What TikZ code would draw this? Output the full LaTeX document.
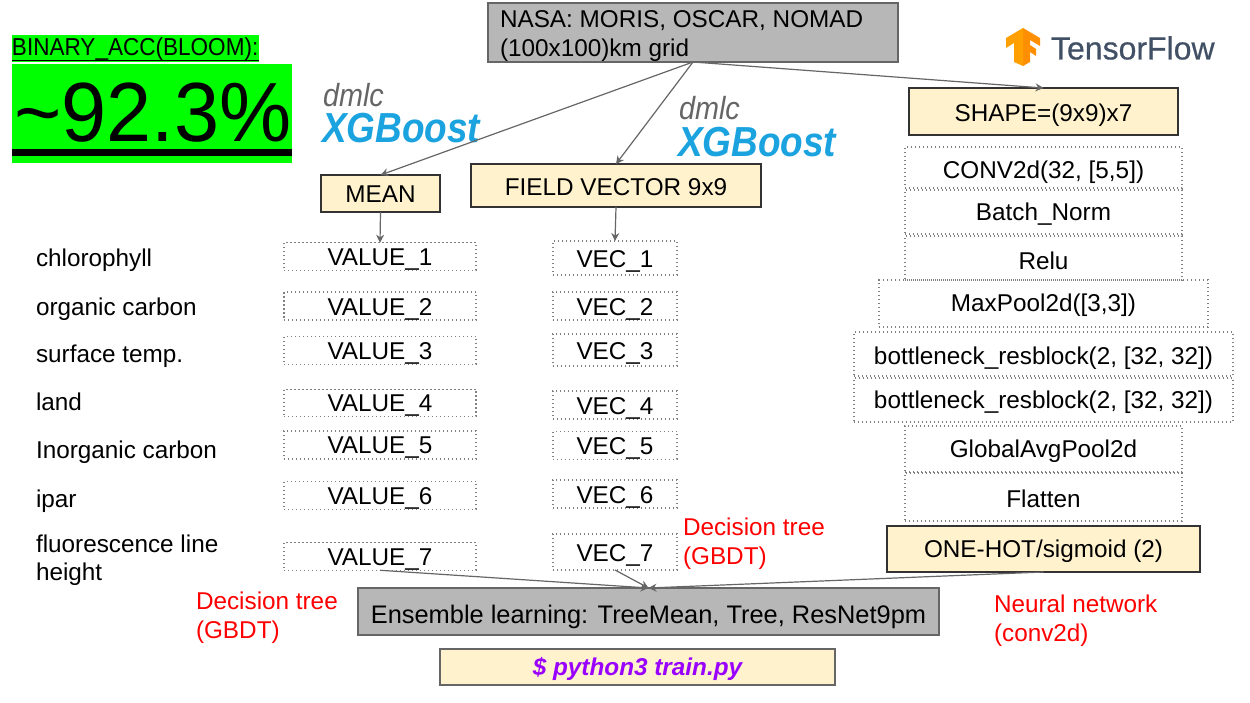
\documentclass[tikz,border=0pt]{standalone}
\usepackage{fontspec}
\setmainfont{Liberation Sans}
\usetikzlibrary{arrows.meta,calc}
\definecolor{boxcream}{HTML}{FFF2CC}
\definecolor{boxgray}{HTML}{B7B7B7}
\definecolor{edgegray}{HTML}{666666}
\definecolor{dotgray}{HTML}{808080}
\definecolor{xgblue}{HTML}{1BA3E0}
\definecolor{tfgray}{HTML}{425066}
\definecolor{tforange}{HTML}{FF8F00}
\definecolor{pyviolet}{HTML}{9900FF}
\newcommand{\fs}[1]{\fontsize{#1}{#1}\selectfont}
\newcommand{\fsl}[2]{\fontsize{#1}{#2}\selectfont}
% shift the text of a node down by #1 pt inside its box
\newcommand{\dn}[2]{\raisebox{0pt}[\dimexpr\height+#1pt+#1pt\relax][\depth]{#2}}
\newcommand{\bx}[8]{%
  \pgfmathsetmacro{\bw}{#4-#2}\pgfmathsetmacro{\bh}{#5-#3}%
  \node[#6,minimum width=\bw pt,minimum height=\bh pt] (#1) at ({(#2+#4)/2},{(#3+#5)/2}) {\dn{#7}{#8}};}
\tikzset{
  base/.style={inner sep=0pt,outer sep=0pt,font=\fs{24.3},text=black},
  cream/.style={base,draw=black!80,line width=1.1pt,fill=boxcream},
  graybox/.style={base,draw=edgegray,line width=1.1pt,fill=boxgray},
  dotbox/.style={base,draw=dotgray,line width=1.3pt,dash pattern=on 1.3pt off 2.7pt},
  lab/.style={base,anchor=west},
  redlab/.style={base,anchor=north west,text=red,align=left,font=\fsl{24.3}{29}},
  conn/.style={draw=edgegray,line width=1.2pt,-{Stealth[length=8pt,width=8pt]}},
  xgbfont/.style={base,anchor=west,text=xgblue,font=\fs{42}\bfseries\itshape\addfontfeature{FakeStretch=0.88}},
  dmlcfont/.style={base,anchor=west,text=edgegray,font=\fs{32}\itshape\addfontfeature{FakeStretch=0.9}},
}
\begin{document}
\begin{tikzpicture}[x=1pt,y=-1pt]
\useasboundingbox (0,0) rectangle (1250,703);
\fill[white] (0,0) rectangle (1250,703);
% accuracy badge
\fill[green] (12,35) rectangle (259,62);
\fill[green] (12,64) rectangle (292,163);
\fill[black] (12,149) rectangle (292,156);
\fill[black] (12,60) rectangle (259,61.5);
\node[base,anchor=west,font=\fs{24.5}\addfontfeature{FakeStretch=0.92}] (acctitle) at (12,49) {BINARY\_ACC(BLOOM):};
\node[base,anchor=west,font=\fs{84}\addfontfeature{FakeStretch=0.965}] (acc) at (14,113) {\string~92.3\%};
% logos
\node[dmlcfont] (dmlcA) at (323,95) {dmlc};
\node[xgbfont] (xgbA) at (322,128) {XGBoost};
\node[dmlcfont] (dmlcB) at (679,108) {dmlc};
\node[xgbfont] (xgbB) at (678,142) {XGBoost};
\fill[tforange] (1023,28) -- (1040,38) -- (1040,46) -- (1030,40) -- (1030,45) -- (1036,49) -- (1036,56) -- (1030,52) -- (1030,62) -- (1023,66) -- cycle;
\fill[tforange!85!yellow] (1023,28) -- (1006,38) -- (1006,48) -- (1014,43) -- (1014,62) -- (1023,66) -- cycle;
\node[base,anchor=west,text=tfgray,font=\fs{32}\addfontfeature{FakeBold=0.5}] (tf) at (1051,48) {TensorFlow};
% source
\bx{nasa}{488}{4}{898}{61}{graybox}{4}{\parbox[c]{386pt}{\fsl{24.3}{29}NASA: MORIS, OSCAR, NOMAD\\(100x100)km grid}}
% branch heads
\bx{mean}{321}{175}{440}{212}{cream}{1}{MEAN}
\bx{field}{471}{164}{761}{207}{cream}{2}{FIELD VECTOR 9x9}
\bx{shape}{909}{88}{1178}{135}{cream}{4}{SHAPE=(9x9)x7}
% feature labels
\node[lab] (f1) at (36,260) {chlorophyll};
\node[lab] (f2) at (36,309) {organic carbon};
\node[lab] (f3) at (36,356) {surface temp.};
\node[lab] (f4) at (36,402) {land};
\node[lab] (f5) at (36,452) {Inorganic carbon};
\node[lab] (f6) at (36,501) {ipar};
\node[lab,align=left,font=\fsl{24.3}{28}] (f7) at (36,560) {fluorescence line\\height};
% values
\bx{v1}{284}{243}{476}{270}{dotbox}{3}{VALUE\_1}
\bx{v2}{284}{293}{476}{319}{dotbox}{3}{VALUE\_2}
\bx{v3}{284}{337}{476}{364}{dotbox}{3}{VALUE\_3}
\bx{v4}{284}{390}{476}{416}{dotbox}{3}{VALUE\_4}
\bx{v5}{284}{431}{476}{459}{dotbox}{3}{VALUE\_5}
\bx{v6}{284}{482}{476}{509}{dotbox}{3}{VALUE\_6}
\bx{v7}{284}{543}{476}{570}{dotbox}{3}{VALUE\_7}
% vectors
\bx{w1}{553}{241}{677}{275}{dotbox}{3}{VEC\_1}
\bx{w2}{553}{292}{677}{320}{dotbox}{3}{VEC\_2}
\bx{w3}{553}{334}{677}{366}{dotbox}{3}{VEC\_3}
\bx{w4}{553}{391}{677}{419}{dotbox}{3}{VEC\_4}
\bx{w5}{553}{432}{677}{459}{dotbox}{3}{VEC\_5}
\bx{w6}{553}{480}{677}{508}{dotbox}{3}{VEC\_6}
\bx{w7}{553}{534}{677}{570}{dotbox}{3}{VEC\_7}
% network
\bx{n1}{905}{147}{1182}{188}{dotbox}{5}{CONV2d(32, [5,5])}
\bx{n2}{905}{190}{1182}{234}{dotbox}{2}{Batch\_Norm}
\bx{n3}{905}{236}{1182}{280}{dotbox}{3}{Relu}
\bx{n4}{879}{280}{1208}{327}{dotbox}{2}{MaxPool2d([3,3])}
\bx{n5}{854}{332}{1233}{376}{dotbox}{4}{bottleneck\_resblock(2, [32, 32])}
\bx{n6}{854}{378}{1233}{422}{dotbox}{2}{bottleneck\_resblock(2, [32, 32])}
\bx{n7}{905}{426}{1182}{472}{dotbox}{2}{GlobalAvgPool2d}
\bx{n8}{905}{473}{1182}{521}{dotbox}{2}{Flatten}
\bx{hot}{887}{526}{1200}{572}{cream}{2}{ONE-HOT/sigmoid (2)}
% bottom
\bx{ens}{358}{588}{939}{635}{graybox,font=\fs{25.4}}{5}{Ensemble learning: TreeMean, Tree, ResNet9pm}
\bx{py}{440}{649}{835}{685}{base,draw=edgegray,line width=1.1pt,fill=boxcream,font=\fs{24.3}\bfseries\itshape,text=pyviolet}{2}{\$ python3 train.py}
% red notes
\node[redlab] (r1) at (683,518) {Decision tree\\(GBDT)};
\node[redlab] (r2) at (196,592) {Decision tree\\(GBDT)};
\node[redlab] (r3) at (994,595) {Neural network\\(conv2d)};
% connectors
\draw[conn] (nasa.south) -- (mean.north);
\draw[conn] (nasa.south) -- (field.north);
\draw[conn] (nasa.south) -- (shape.north);
\draw[conn] (mean.south) -- (v1.north);
\draw[conn] (field.south) -- (w1.north);
\draw[conn] (v7.south) -- (ens.north);
\draw[conn] (w7.south) -- (ens.north);
\draw[conn] (hot.south) -- (ens.north);
\end{tikzpicture}
\end{document}
